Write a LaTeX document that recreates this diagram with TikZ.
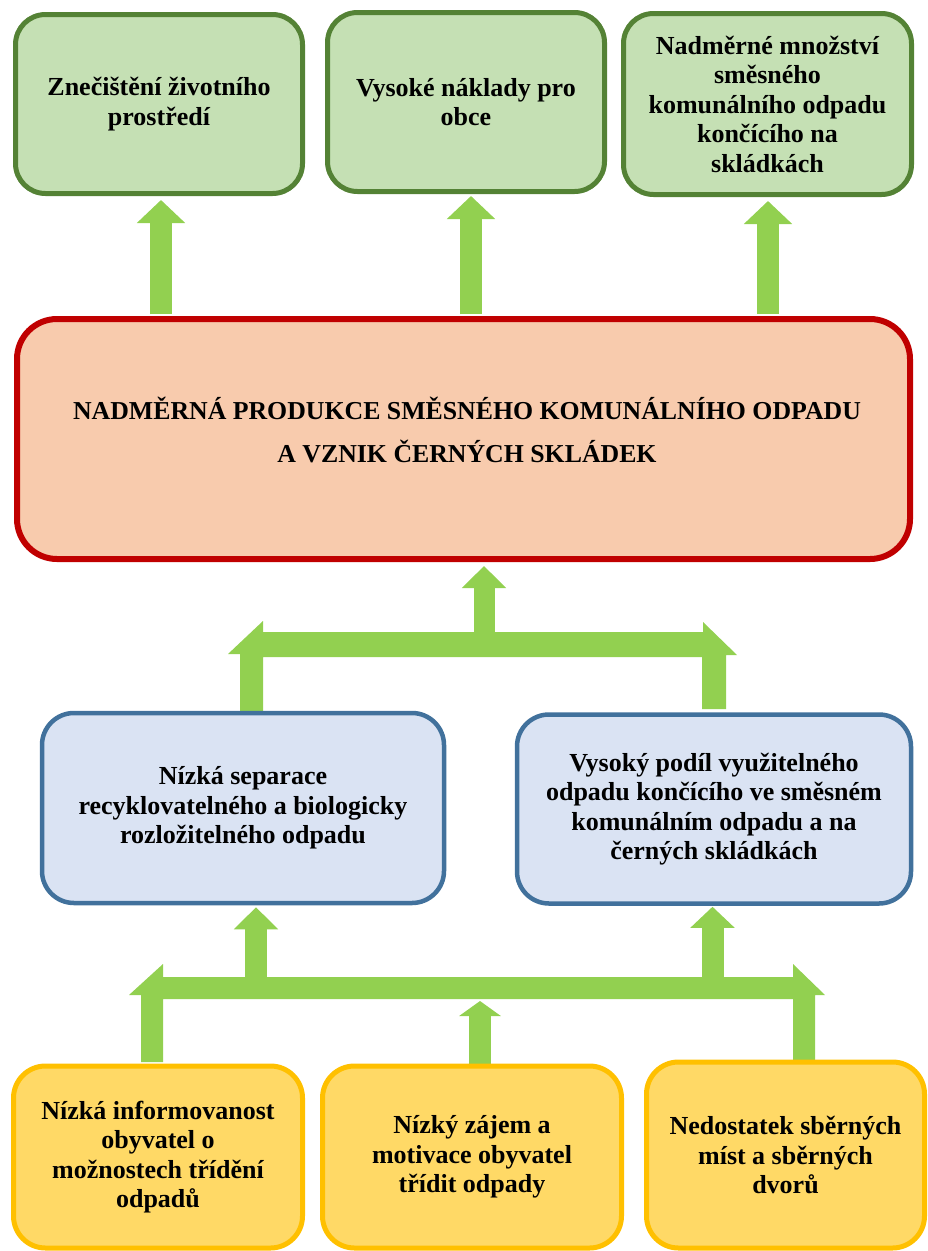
\documentclass[tikz,border=0pt]{standalone}
\usepackage{fontspec}
\setmainfont{Liberation Serif}
\usetikzlibrary{arrows.meta}

\definecolor{grnfill}{HTML}{C5E0B4}
\definecolor{grnline}{HTML}{548235}
\definecolor{redfill}{HTML}{F8CBAD}
\definecolor{redline}{HTML}{C00000}
\definecolor{bluefill}{HTML}{DAE3F3}
\definecolor{blueline}{HTML}{41719C}
\definecolor{yelfill}{HTML}{FFD966}
\definecolor{yelline}{HTML}{FFC000}
\definecolor{arrowgreen}{HTML}{92D050}

\pgfdeclarelayer{bg}
\pgfsetlayers{bg,main}

\begin{document}
\begin{tikzpicture}[x=1pt,y=-1pt,
  card/.style={draw, inner sep=0pt, align=center,
    font=\bfseries\fontsize{26}{29.5}\selectfont, text=black},
  effect/.style={card, fill=grnfill, draw=grnline, line width=5pt, rounded corners=30pt},
  problem/.style={card, fill=redfill, draw=redline, line width=6pt, rounded corners=40pt},
  cause/.style={card, fill=bluefill, draw=blueline, line width=4.5pt, rounded corners=32pt},
  root/.style={card, fill=yelfill, draw=yelline, line width=5pt, rounded corners=32pt},
  uparrow/.style={draw=arrowgreen, line width=22pt,
    -{Triangle[width=47pt,length=23pt]}},
  bararrow/.style={fill=arrowgreen},
]
\useasboundingbox (0,0) rectangle (928,1251);

% effects
\node[effect, minimum width=287pt, minimum height=179pt] (g1) at (159,104)
  {Znečištění životního\\prostředí};
\node[effect, minimum width=277pt, minimum height=179pt] (g2) at (466,102)
  {Vysoké náklady pro\\obce};
\node[effect, minimum width=288pt, minimum height=181pt] (g3) at (767.5,104)
  {Nadměrné množství\\směsného\\komunálního odpadu\\končícího na\\skládkách};

% central problem
\node[problem, minimum width=893pt, minimum height=240pt] (prob) at (463.5,439) {};
\node[font=\bfseries\fontsize{25.8}{43}\selectfont, align=center, inner sep=0pt]
  (probtext) at (467,430)
  {NADMĚRNÁ PRODUKCE SMĚSNÉHO KOMUNÁLNÍHO ODPADU\\A VZNIK ČERNÝCH SKLÁDEK};

% direct causes
\node[cause, minimum width=402pt, minimum height=190pt] (b1) at (243,808)
  {Nízká separace\\recyklovatelného a biologicky\\rozložitelného odpadu};
\node[cause, minimum width=394pt, minimum height=189pt] (b2) at (714,809)
  {Vysoký podíl využitelného\\odpadu končícího ve směsném\\komunálním odpadu a na\\černých skládkách};

% root causes
\node[root, minimum width=289pt, minimum height=182pt] (y1) at (158,1157)
  {Nízká informovanost\\obyvatel o\\možnostech třídění\\odpadů};
\node[root, minimum width=299pt, minimum height=182pt] (y2) at (472,1157)
  {Nízký zájem a\\motivace obyvatel\\třídit odpady};
\node[root, minimum width=278pt, minimum height=186pt] (y3) at (785.5,1155)
  {Nedostatek sběrných\\míst a sběrných\\dvorů};

% joints of the bent arrows
\coordinate (topbar) at (484,645);
\coordinate (lowbar) at (480,988);
\coordinate (lowbarbottom) at (480,999);

\begin{pgfonlayer}{bg}
  % problem -> effects
  \draw[uparrow, shorten <=2pt, shorten >=4pt] (prob.north -| 161,0) -- (g1.south -| 161,0);
  \draw[uparrow, shorten <=2pt, shorten >=2pt] (prob.north -| 471,0) -- (g2.south -| 471,0);
  \draw[uparrow, shorten <=2pt, shorten >=4pt] (prob.north -| 768,0) -- (g3.south -| 768,0);

  % direct causes -> problem
  \fill[bararrow] (240,712) -- (240,654) -- (228,654) -- (263,621) -- (263,632)
    -- (703,632) -- (703,622) -- (737,655) -- (726,655) -- (726,709)
    -- (702,709) -- (702,657) -- (263,657) -- (263,712) -- cycle;
  \draw[uparrow, line width=21pt, -{Triangle[width=43pt,length=22pt]}, shorten >=4pt]
    (topbar) -- (prob.south -| topbar);

  % root causes -> direct causes
  \fill[bararrow] (141,1062) -- (141,995) -- (129,995) -- (163,964) -- (163,977)
    -- (793,977) -- (793,964) -- (825,995) -- (815,995) -- (815,1062)
    -- (793,1062) -- (793,999) -- (163,999) -- (163,1062) -- cycle;
  \draw[uparrow, -{Triangle[width=43pt,length=22pt]}, shorten >=2pt]
    (lowbar -| 256,0) -- (b1.south -| 256,0);
  \draw[uparrow, -{Triangle[width=43pt,length=21pt]}, shorten >=1pt]
    (lowbar -| 712.5,0) -- (b2.south -| 712.5,0);
  \draw[uparrow, -{Triangle[width=41pt,length=15pt]}, shorten >=2pt]
    (y2.north -| lowbar) -- (lowbarbottom);
\end{pgfonlayer}
\end{tikzpicture}
\end{document}
